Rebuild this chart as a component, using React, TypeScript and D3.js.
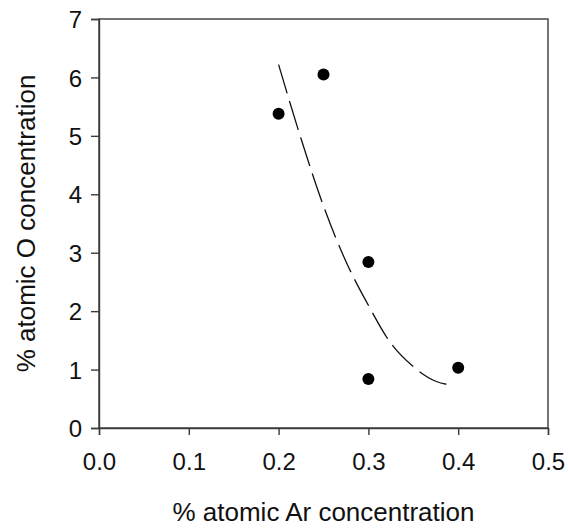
import * as d3 from "d3";
import { useEffect, useRef } from "react";

// measured points
const arConc = [0.2, 0.25, 0.3, 0.3, 0.4];
const oConc = [5.38, 6.05, 2.84, 0.84, 1.03];

// dashed trend line
const fitAr = [0.2, 0.225, 0.25, 0.275, 0.3, 0.325, 0.35, 0.375, 0.395];
const fitO = [6.22, 4.95, 3.8, 2.85, 2.1, 1.45, 1.05, 0.8, 0.73];

const xTicks = [0, 0.1, 0.2, 0.3, 0.4, 0.5];
const yTicks = [0, 1, 2, 3, 4, 5, 6, 7];

const width = 568;
const height = 528;
const font = "'Liberation Sans', Arial, sans-serif";

export default function App() {
  const ref = useRef(null);

  const render = () => {
    const svg = d3.select(ref.current);
    svg.selectAll("*").remove();

    const x = d3.scaleLinear().domain([0, 0.5]).range([99, 548]);
    const y = d3.scaleLinear().domain([0, 7]).range([428, 19]);
    const axisColor = "#3a3a3a";

    // frame
    svg
      .append("rect")
      .attr("x", x(0))
      .attr("y", y(7))
      .attr("width", x(0.5) - x(0))
      .attr("height", y(0) - y(7))
      .attr("fill", "none")
      .attr("stroke", axisColor)
      .attr("stroke-width", 1.4);

    const xAxis = svg
      .append("g")
      .attr("transform", `translate(0,${y(0)})`)
      .call(
        d3
          .axisBottom(x)
          .tickValues(xTicks)
          .tickSize(7)
          .tickPadding(18)
          .tickFormat(d3.format(".1f"))
      );

    const yAxis = svg
      .append("g")
      .attr("transform", `translate(${x(0)},0)`)
      .call(
        d3
          .axisLeft(y)
          .tickValues(yTicks)
          .tickSize(8)
          .tickPadding(9)
          .tickFormat(d3.format("d"))
      );

    [xAxis, yAxis].forEach((g) => {
      g.select(".domain").attr("stroke", axisColor).attr("stroke-width", 1.4);
      g.selectAll(".tick line").attr("stroke", axisColor).attr("stroke-width", 1.4);
      g.selectAll(".tick text")
        .attr("fill", "#111")
        .attr("font-family", font)
        .attr("font-size", 24);
    });
    yAxis.selectAll(".tick text").attr("dy", "0.36em");

    const line = d3
      .line<number>()
      .x((d) => x(d))
      .y((_, i) => y(fitO[i]))
      .curve(d3.curveMonotoneX);

    svg
      .append("path")
      .attr("d", line(fitAr))
      .attr("fill", "none")
      .attr("stroke", "#111")
      .attr("stroke-width", 1.3)
      .attr("stroke-dasharray", "30 8");

    svg
      .append("g")
      .selectAll("circle")
      .data(arConc)
      .join("circle")
      .attr("cx", (d) => x(d))
      .attr("cy", (_, i) => y(oConc[i]))
      .attr("r", 6)
      .attr("fill", "#000");

    svg
      .append("text")
      .attr("x", (x(0) + x(0.5)) / 2)
      .attr("y", 521)
      .attr("text-anchor", "middle")
      .attr("font-family", font)
      .attr("font-size", 26)
      .attr("fill", "#111")
      .text("% atomic Ar concentration");

    svg
      .append("text")
      .attr("transform", `translate(35,${(y(0) + y(7)) / 2}) rotate(-90)`)
      .attr("text-anchor", "middle")
      .attr("font-family", font)
      .attr("font-size", 26)
      .attr("fill", "#111")
      .text("% atomic O concentration");
  };

  // eslint-disable-next-line react-hooks/exhaustive-deps
  useEffect(() => { render() }, []);

  return (
    <svg
      ref={ref}
      width={width}
      height={height}
      style={{ position: "absolute", left: 0, top: 0, background: "#fff" }}
    ></svg>
  );
}
